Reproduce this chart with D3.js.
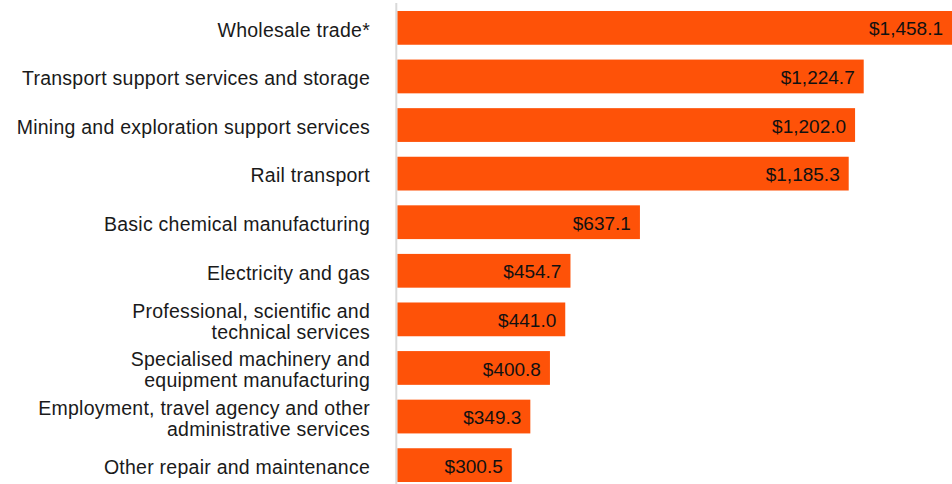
<!DOCTYPE html>
<html>
<head>
<meta charset="utf-8">
<script src="https://cdn.jsdelivr.net/npm/d3@7"></script>
<style>
  html, body { margin: 0; padding: 0; background: #fff; }
  svg { display: block; }
  text { font-family: "Helvetica Neue", Helvetica, "Liberation Sans", Arial, sans-serif; }
</style>
</head>
<body>
<svg id="chart" width="952" height="484"></svg>
<script>
const categories = [
  ["Wholesale trade*"],
  ["Transport support services and storage"],
  ["Mining and exploration support services"],
  ["Rail transport"],
  ["Basic chemical manufacturing"],
  ["Electricity and gas"],
  ["Professional, scientific and", "technical services"],
  ["Specialised machinery and", "equipment manufacturing"],
  ["Employment, travel agency and other", "administrative services"],
  ["Other repair and maintenance"]
];
const values = [1458.1, 1224.7, 1202.0, 1185.3, 637.1, 454.7, 441.0, 400.8, 349.3, 300.5];
const valueLabels = ["$1,458.1", "$1,224.7", "$1,202.0", "$1,185.3", "$637.1", "$454.7", "$441.0", "$400.8", "$349.3", "$300.5"];

const W = 952, H = 484;
const svg = d3.select("#chart");

const idx = d3.range(values.length);
const y = d3.scaleBand().domain(idx).range([3.7, 489.3]).paddingInner(0.305).paddingOuter(0.15);
const x = d3.scaleLinear().domain([0, 1458.1]).range([397.3, 952.6]);

// bars
svg.append("g").selectAll("rect").data(idx).join("rect")
  .attr("x", x(0))
  .attr("y", i => y(i))
  .attr("width", i => x(values[i]) - x(0))
  .attr("height", y.bandwidth())
  .attr("fill", "#fe5208");

// axis line
svg.append("line")
  .attr("x1", 396.3).attr("x2", 396.3)
  .attr("y1", 3).attr("y2", H)
  .attr("stroke", "#d9d9d9").attr("stroke-width", 2);

// value labels
svg.append("g").selectAll("text").data(idx).join("text")
  .attr("x", i => Math.min(x(values[i]), W) - 9)
  .attr("y", i => y(i) + y.bandwidth() / 2)
  .attr("dy", "0.4em")
  .attr("text-anchor", "end")
  .attr("font-size", 19)
  .attr("fill", "#111")
  .text(i => valueLabels[i]);

// category labels
const lab = svg.append("g").selectAll("text").data(idx).join("text")
  .attr("x", 370)
  .attr("y", i => y(i) + y.bandwidth() / 2)
  .attr("text-anchor", "end")
  .attr("font-size", 19.5)
  .attr("letter-spacing", 0.25)
  .attr("fill", "#1a1a1a");
lab.each(function(i) {
  const lines = categories[i];
  const n = lines.length;
  const lh = 21;
  d3.select(this).selectAll("tspan").data(lines).join("tspan")
    .attr("x", 370)
    .attr("dy", (d, k) => k === 0 ? ((-(n - 1) / 2) * lh / 19.5 + 0.45) + "em" : lh + "px")
    .text(d => d);
});
</script>
</body>
</html>
